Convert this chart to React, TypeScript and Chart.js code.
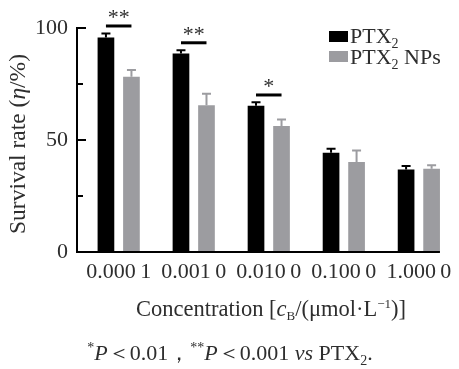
import React, { useEffect, useRef } from "react";
import { Chart, registerables } from "chart.js";

Chart.register(...registerables);

const categories = ["0.000\u20091", "0.001\u20090", "0.010\u20090", "0.100\u20090", "1.000\u20090"];
const ptxMeans = [95.8, 88.6, 65.3, 44.3, 36.8];
const ptxErrors = [1.8, 1.5, 1.5, 1.8, 1.6];
const npMeans = [78.2, 65.5, 56.3, 40.2, 37.2];
const npErrors = [3.1, 5.2, 2.9, 5.1, 1.5];
const significance = ["**", "**", "*", "", ""];
const yMajorTicks = [0, 50, 100];
const yMinorTicks = [25, 75];

const BLACK = "#000000";
const GRAY = "#9c9ca0";
const TEXT = "#2e2e2e";
const SERIF = '"Liberation Serif", "Times New Roman", serif';

type Seg = { t: string; italic?: boolean; size?: number; dy?: number; family?: string };

function segFont(s: Seg, base: number) {
  return `${s.italic ? "italic " : ""}${s.size ?? base}px ${s.family ?? SERIF}`;
}

function drawRich(ctx: CanvasRenderingContext2D, segs: Seg[], x: number, y: number, base: number, align: "left" | "center") {
  let w = 0;
  for (const s of segs) {
    ctx.font = segFont(s, base);
    w += ctx.measureText(s.t).width;
  }
  let cx = align === "center" ? x - w / 2 : x;
  ctx.textAlign = "left";
  ctx.textBaseline = "alphabetic";
  for (const s of segs) {
    ctx.font = segFont(s, base);
    ctx.fillText(s.t, cx, y + (s.dy ?? 0));
    cx += ctx.measureText(s.t).width;
  }
}

const overlay = {
  id: "overlay",
  afterDatasetsDraw(chart: any) {
    const ctx: CanvasRenderingContext2D = chart.ctx;
    const { left, right, top, bottom } = chart.chartArea;
    const ys = chart.scales.y;
    ctx.save();

    // axes
    ctx.strokeStyle = "#000";
    ctx.lineWidth = 2;
    ctx.beginPath();
    ctx.moveTo(left, top);
    ctx.lineTo(left, bottom);
    ctx.lineTo(right, bottom);
    ctx.stroke();
    for (const v of yMajorTicks) {
      if (v === 0) continue;
      const py = ys.getPixelForValue(v);
      ctx.beginPath();
      ctx.moveTo(left - 1, py);
      ctx.lineTo(left + 9, py);
      ctx.stroke();
    }
    for (const v of yMinorTicks) {
      const py = ys.getPixelForValue(v);
      ctx.beginPath();
      ctx.moveTo(left, py);
      ctx.lineTo(left + 6, py);
      ctx.stroke();
    }

    // error bars
    const series = [
      { means: ptxMeans, errs: ptxErrors, color: BLACK },
      { means: npMeans, errs: npErrors, color: GRAY },
    ];
    series.forEach((s, di) => {
      const meta = chart.getDatasetMeta(di);
      meta.data.forEach((el: any, j: number) => {
        const yTop = ys.getPixelForValue(s.means[j] + s.errs[j]);
        ctx.strokeStyle = s.color;
        ctx.lineWidth = 2;
        ctx.beginPath();
        ctx.moveTo(el.x, el.y);
        ctx.lineTo(el.x, yTop);
        ctx.moveTo(el.x - 4.5, yTop);
        ctx.lineTo(el.x + 4.5, yTop);
        ctx.stroke();
      });
    });

    // significance
    const m0 = chart.getDatasetMeta(0);
    const m1 = chart.getDatasetMeta(1);
    significance.forEach((sig, j) => {
      if (!sig) return;
      const x1 = m0.data[j].x;
      const x2 = m1.data[j].x;
      const level = Math.max(ptxMeans[j] + ptxErrors[j], npMeans[j] + npErrors[j]) + 3.3;
      const py = ys.getPixelForValue(level);
      ctx.strokeStyle = "#000";
      ctx.lineWidth = 3;
      ctx.beginPath();
      ctx.moveTo(x1, py);
      ctx.lineTo(x2, py);
      ctx.stroke();
      ctx.fillStyle = TEXT;
      ctx.font = `22px ${SERIF}`;
      ctx.textAlign = "center";
      ctx.textBaseline = "alphabetic";
      ctx.fillText(sig, (x1 + x2) / 2, py - 2);
    });

    // legend
    ctx.fillStyle = BLACK;
    ctx.fillRect(329, 31, 19, 11);
    ctx.fillStyle = GRAY;
    ctx.fillRect(329, 51, 19, 11);
    ctx.fillStyle = TEXT;
    drawRich(ctx, [{ t: "PTX" }, { t: "2", size: 14, dy: 5 }], 350, 43, 22, "left");
    drawRich(ctx, [{ t: "PTX" }, { t: "2", size: 14, dy: 5 }, { t: " NPs" }], 350, 64, 22, "left");

    // y title
    ctx.save();
    ctx.translate(25, 144);
    ctx.rotate(-Math.PI / 2);
    drawRich(ctx, [{ t: "Survival rate (" }, { t: "\u03b7", italic: true }, { t: "/%)" }], 0, 0, 23.5, "center");
    ctx.restore();

    // x title
    drawRich(
      ctx,
      [
        { t: "Concentration [" },
        { t: "c", italic: true },
        { t: "B", size: 13, dy: 4 },
        { t: "/(\u03bcmol\u00b7L" },
        { t: "\u22121", size: 13, dy: -8 },
        { t: ")]" },
      ],
      271,
      316,
      22.5,
      "center"
    );

    // footnote
    drawRich(
      ctx,
      [
        { t: "*", size: 14, dy: -8 },
        { t: "P", italic: true },
        { t: "\uff1c0.01\uff0c" },
        { t: "**", size: 14, dy: -8 },
        { t: "P", italic: true },
        { t: "\uff1c0.001 " },
        { t: "vs", italic: true },
        { t: " PTX" },
        { t: "2", size: 14, dy: 5 },
        { t: "." },
      ],
      230,
      360,
      22,
      "center"
    );

    ctx.restore();
  },
};

export default function App() {
  const ref = useRef<HTMLCanvasElement | null>(null);
  useEffect(() => {
    if (!ref.current) return;
    const chart = new Chart(ref.current, {
      type: "bar",
      data: {
        labels: categories,
        datasets: [
          {
            label: "PTX2",
            data: ptxMeans.map((v, i) => ({ x: i + 1, y: v })) as any,
            backgroundColor: BLACK,
            barPercentage: 0.654,
            categoryPercentage: 0.68,
          },
          {
            label: "PTX2 NPs",
            data: npMeans.map((v, i) => ({ x: i + 1, y: v })) as any,
            backgroundColor: GRAY,
            barPercentage: 0.654,
            categoryPercentage: 0.68,
          },
        ],
      },
      options: {
        responsive: false,
        animation: false,
        devicePixelRatio: 1,
        layout: { padding: { top: 28, right: 12, left: 0, bottom: 0 } },
        plugins: { legend: { display: false }, tooltip: { enabled: false } },
        scales: {
          x: {
            type: "linear",
            offset: false,
            min: 0.4444,
            max: 5.281,
            grid: { display: false, drawTicks: false, offset: false },
            border: { display: false },
            afterBuildTicks: (s: any) => {
              s.ticks = categories.map((_, i) => ({ value: i + 1 }));
            },
            afterFit: (s: any) => {
              s.height = 369 - 252;
            },
            ticks: {
              callback: (v: any) => categories[Number(v) - 1] ?? "",
              font: { family: SERIF, size: 22 },
              color: TEXT,
              padding: 7,
              maxRotation: 0,
              autoSkip: false,
            },
          },
          y: {
            min: 0,
            max: 100,
            grid: { display: false, drawTicks: false },
            border: { display: false },
            afterBuildTicks: (s: any) => {
              s.ticks = yMajorTicks.map((v) => ({ value: v }));
            },
            afterFit: (s: any) => {
              s.width = 77;
            },
            ticks: {
              font: { family: SERIF, size: 22 },
              color: TEXT,
              padding: 9,
            },
          },
        },
      } as any,
      plugins: [overlay],
    });
    return () => chart.destroy();
  }, []);
  return (
    <div style={{ position: "fixed", left: 0, top: 0, width: 459, height: 369, background: "#fff" }}>
      <canvas ref={ref} width={459} height={369} style={{ display: "block" }} />
    </div>
  );
}
